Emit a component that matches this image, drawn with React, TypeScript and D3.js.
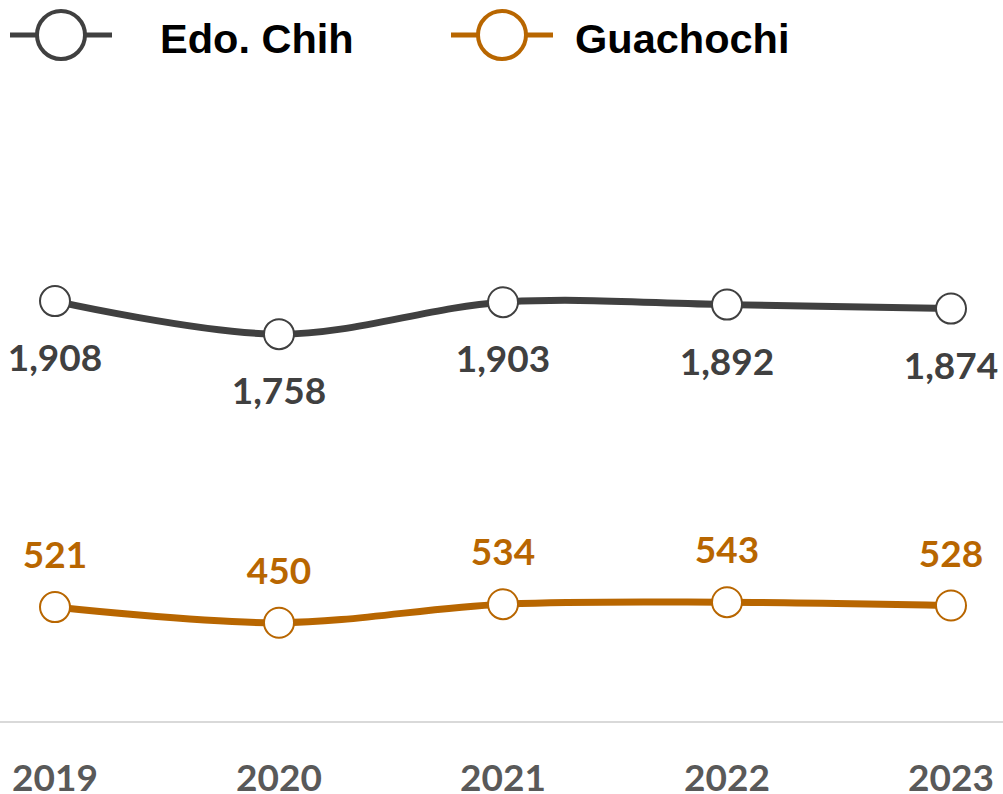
import React from "react";
import * as d3 from "d3";

const years = ["2019", "2020", "2021", "2022", "2023"];
const edoValues = [1908, 1758, 1903, 1892, 1874];
const guaValues = [521, 450, 534, 543, 528];
const seriesNames = ["Edo. Chih", "Guachochi"];

const W = 1003;
const H = 794;
const GREY = "#404040";
const ORANGE = "#B86600";

export default function App() {
  const x = d3.scalePoint<string>().domain(years).range([55, 951]);
  const y = d3.scaleLinear().domain([0, 2500]).range([722, 170.5]);

  const line = d3
    .line<number>()
    .x((_, i) => x(years[i]) as number)
    .y((d) => y(d))
    .curve(d3.curveCatmullRom.alpha(0.5));

  const series = [
    { name: seriesNames[0], values: edoValues, color: GREY, labelColor: "#404040", below: true },
    { name: seriesNames[1], values: guaValues, color: ORANGE, labelColor: ORANGE, below: false },
  ];

  const fmt = d3.format(",");
  const legendX = [10, 451];
  const textX = [160, 575];

  return (
    <svg
      width={W}
      height={H}
      style={{ position: "absolute", left: 0, top: 0, display: "block" }}
    >
      <rect width={W} height={H} fill="#fff" />
      {/* legend */}
      {series.map((s, i) => (
        <g key={s.name}>
          <line
            x1={legendX[i]}
            x2={legendX[i] + 102}
            y1={35}
            y2={35}
            stroke={s.color}
            strokeWidth={5}
          />
          <circle
            cx={legendX[i] + 51}
            cy={35}
            r={24}
            fill="#fff"
            stroke={s.color}
            strokeWidth={4}
          />
          <text
            x={textX[i]}
            y={53}
            fontFamily="'Liberation Sans', Arial, sans-serif"
            fontWeight="bold"
            fontSize={41.5}
            fill="#000"
          >
            {s.name}
          </text>
        </g>
      ))}

      {/* axis line */}
      <line x1={0} x2={W} y1={y(0)} y2={y(0)} stroke="#d9d9d9" strokeWidth={2} />

      {/* year labels */}
      {years.map((yr) => (
        <text
          key={yr}
          x={x(yr)}
          y={791}
          textAnchor="middle"
          fontFamily="Lato, 'Open Sans', sans-serif"
          fontWeight="bold"
          fontSize={37}
          fill="#595959"
        >
          {yr}
        </text>
      ))}

      {series.map((s) => (
        <g key={s.name}>
          <path d={line(s.values) || ""} fill="none" stroke={s.color} strokeWidth={7} />
          {s.values.map((v, i) => (
            <circle
              key={i}
              cx={x(years[i])}
              cy={y(v)}
              r={15}
              fill="#fff"
              stroke={s.color}
              strokeWidth={2}
            />
          ))}
          {s.values.map((v, i) => (
            <text
              key={"t" + i}
              x={x(years[i])}
              y={s.below ? y(v) + 70 : y(v) - 39}
              textAnchor="middle"
              fontFamily="Lato, 'Open Sans', sans-serif"
              fontWeight="bold"
              fontSize={37}
              fill={s.labelColor}
            >
              {fmt(v)}
            </text>
          ))}
        </g>
      ))}
    </svg>
  );
}
